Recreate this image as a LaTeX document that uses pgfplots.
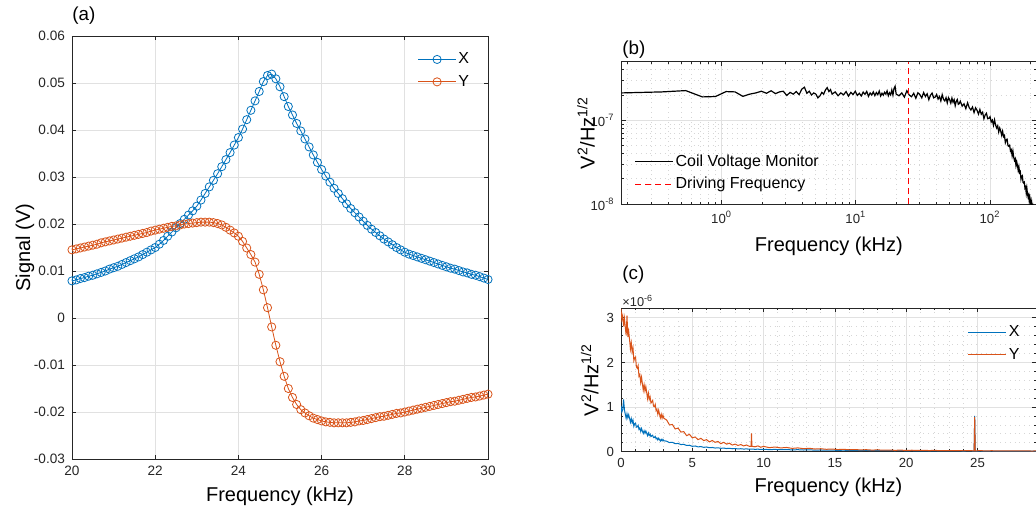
\documentclass[border=0pt]{standalone}
\usepackage{fontspec}
\setmainfont{Liberation Sans}
\usepackage{pgfplots}
\usepackage{pgfplotstable}
\pgfplotsset{compat=1.18}

\definecolor{mblue}{RGB}{0,114,189}
\definecolor{morange}{RGB}{217,83,25}
\definecolor{axgray}{RGB}{38,38,38}
\definecolor{gridgray}{RGB}{225,225,225}

% panel (a): lock-in X and Y versus drive frequency
\pgfplotstableread{
f X Y
20.0 .0079 .0145
20.1 .0081 .0147
20.2 .0084 .0149
20.3 .0086 .0151
20.4 .0089 .0153
20.5 .0091 .0155
20.6 .0094 .0157
20.7 .0097 .0160
20.8 .0100 .0162
20.9 .0104 .0164
21.0 .0107 .0166
21.1 .0110 .0168
21.2 .0114 .0170
21.3 .0118 .0172
21.4 .0122 .0174
21.5 .0126 .0176
21.6 .0130 .0178
21.7 .0135 .0180
21.8 .0140 .0182
21.9 .0145 .0185
22.0 .0150 .0187
22.1 .0157 .0189
22.2 .0165 .0191
22.3 .0174 .0193
22.4 .0183 .0195
22.5 .0192 .0196
22.6 .0201 .0198
22.7 .0210 .0200
22.8 .0219 .0201
22.9 .0228 .0202
23.0 .0238 .0203
23.1 .0251 .0204
23.2 .0265 .0204
23.3 .0279 .0204
23.4 .0293 .0203
23.5 .0307 .0201
23.6 .0322 .0198
23.7 .0337 .0193
23.8 .0352 .0187
23.9 .0368 .0181
24.0 .0384 .0174
24.1 .0402 .0163
24.2 .0422 .0149
24.3 .0442 .0135
24.4 .0462 .0119
24.5 .0482 .0093
24.6 .0503 .0060
24.7 .0516 .0022
24.8 .0519 -.0019
24.9 .0509 -.0058
25.0 .0492 -.0093
25.1 .0471 -.0124
25.2 .0450 -.0150
25.3 .0432 -.0169
25.4 .0414 -.0184
25.5 .0398 -.0195
25.6 .0381 -.0202
25.7 .0364 -.0208
25.8 .0347 -.0213
25.9 .0331 -.0216
26.0 .0316 -.0219
26.1 .0302 -.0221
26.2 .0289 -.0222
26.3 .0276 -.0223
26.4 .0265 -.0223
26.5 .0254 -.0223
26.6 .0243 -.0223
26.7 .0233 -.0222
26.8 .0224 -.0221
26.9 .0215 -.0219
27.0 .0206 -.0218
27.1 .0197 -.0216
27.2 .0189 -.0214
27.3 .0182 -.0212
27.4 .0175 -.0210
27.5 .0168 -.0209
27.6 .0162 -.0207
27.7 .0156 -.0205
27.8 .0150 -.0203
27.9 .0145 -.0202
28.0 .0140 -.0200
28.1 .0136 -.0198
28.2 .0133 -.0196
28.3 .0130 -.0194
28.4 .0127 -.0192
28.5 .0124 -.0190
28.6 .0121 -.0188
28.7 .0118 -.0186
28.8 .0115 -.0184
28.9 .0112 -.0182
29.0 .0109 -.0180
29.1 .0106 -.0178
29.2 .0104 -.0177
29.3 .0101 -.0175
29.4 .0098 -.0173
29.5 .0096 -.0171
29.6 .0093 -.0169
29.7 .0091 -.0168
29.8 .0088 -.0166
29.9 .0085 -.0164
30.0 .0082 -.0162
}\sweep

% panel (b): coil voltage monitor spectrum
\pgfplotstableread{
f v
0.18 2.12e-7
0.36 2.18e-7
0.54 2.26e-7
0.72 1.90e-7
0.90 1.92e-7
1.08 2.20e-7
1.26 2.18e-7
1.44 1.93e-7
1.62 2.05e-7
1.80 2.12e-7
1.98 2.22e-7
2.16 2.10e-7
2.34 2.25e-7
2.52 2.08e-7
2.70 2.18e-7
2.88 2.22e-7
3.06 1.98e-7
3.24 2.15e-7
3.42 2.05e-7
3.60 2.20e-7
3.78 2.02e-7
3.96 2.35e-7
4.14 2.48e-7
4.32 2.10e-7
4.50 2.22e-7
4.68 2.00e-7
4.86 2.12e-7
5.04 2.05e-7
5.22 1.85e-7
5.40 1.95e-7
5.58 2.15e-7
5.76 2.05e-7
5.94 2.30e-7
6.12 2.45e-7
6.30 2.20e-7
6.48 2.32e-7
6.66 2.05e-7
7.02 2.18e-7
7.38 1.96e-7
7.74 2.12e-7
8.10 2.01e-7
8.46 2.20e-7
8.82 1.94e-7
9.18 2.15e-7
9.54 2.03e-7
9.90 2.22e-7
10.26 1.98e-7
10.62 2.10e-7
10.98 1.95e-7
11.34 2.17e-7
11.70 2.04e-7
12.06 2.21e-7
12.42 1.93e-7
12.78 2.12e-7
13.14 2.00e-7
13.50 2.18e-7
13.86 1.97e-7
14.22 2.14e-7
14.58 2.02e-7
14.94 2.23e-7
15.30 1.95e-7
15.66 2.10e-7
16.02 1.99e-7
16.38 2.16e-7
16.74 2.05e-7
17.10 2.24e-7
17.46 1.96e-7
17.82 2.13e-7
18.18 2.01e-7
18.54 2.30e-7
18.90 2.00e-7
19.26 2.40e-7
19.62 2.55e-7
19.98 2.05e-7
21 1.96e-7
22 2.12e-7
23 1.89e-7
24 2.25e-7
25 2.00e-7
26 1.91e-7
27 2.10e-7
28 1.83e-7
29 2.13e-7
30 2.02e-7
31 1.85e-7
32 2.14e-7
33 1.92e-7
34 2.07e-7
35 1.76e-7
36 1.99e-7
37 2.11e-7
38 1.85e-7
39 1.89e-7
40 2.03e-7
41 1.79e-7
42 1.92e-7
43 1.70e-7
44 2.02e-7
45 1.78e-7
46 1.70e-7
47 1.86e-7
48 1.61e-7
49 1.86e-7
50 1.76e-7
51 1.60e-7
52 1.84e-7
53 1.64e-7
54 1.76e-7
55 1.49e-7
56 1.68e-7
57 1.77e-7
58 1.55e-7
59 1.58e-7
60 1.69e-7
62 1.474e-7
64 1.570e-7
66 1.376e-7
68 1.615e-7
70 1.411e-7
72 1.327e-7
74 1.439e-7
76 1.234e-7
78 1.408e-7
80 1.313e-7
82 1.183e-7
84 1.344e-7
86 1.180e-7
88 1.247e-7
90 1.044e-7
92 1.159e-7
94 1.212e-7
96 1.044e-7
98 1.053e-7
100 1.102e-7
102 0.952e-7
104 1.003e-7
106 0.870e-7
108 1.010e-7
110 0.872e-7
112 0.807e-7
114 0.859e-7
116 0.723e-7
118 0.808e-7
120 0.747e-7
122 0.662e-7
124 0.739e-7
126 0.636e-7
128 0.659e-7
130 0.540e-7
132 0.583e-7
134 0.593e-7
136 0.497e-7
138 0.489e-7
140 0.503e-7
142 0.428e-7
144 0.443e-7
146 0.377e-7
148 0.429e-7
150 0.363e-7
152 0.331e-7
154 0.347e-7
156 0.288e-7
158 0.319e-7
160 0.288e-7
162 0.252e-7
164 0.278e-7
166 0.237e-7
168 0.244e-7
170 0.198e-7
172 0.214e-7
174 0.218e-7
176 0.182e-7
178 0.178e-7
180 0.182e-7
182 0.154e-7
184 0.159e-7
186 0.135e-7
188 0.155e-7
190 0.132e-7
192 0.121e-7
194 0.128e-7
196 0.107e-7
198 0.120e-7
200 0.109e-7
202 0.097e-7
204 0.107e-7
206 0.092e-7
208 0.096e-7
210 0.078e-7
212 0.085e-7
214 0.087e-7
216 0.073e-7
218 0.072e-7
220 0.075e-7
}\coil

% panel (c): noise spectra of X and Y, in units of 1e-6
\pgfplotstableread{
f v
0.00 1.03
0.06 0.89
0.12 0.94
0.18 1.17
0.24 0.94
0.30 0.84
0.36 0.75
0.42 0.85
0.48 0.76
0.54 0.83
0.60 0.75
0.66 0.66
0.72 0.74
0.78 0.65
0.84 0.71
0.90 0.57
0.96 0.63
1.02 0.64
1.08 0.55
1.14 0.555
1.20 0.59
1.26 0.50
1.32 0.53
1.38 0.455
1.44 0.52
1.50 0.46
1.56 0.41
1.62 0.47
1.68 0.415
1.74 0.465
1.80 0.415
1.86 0.36
1.92 0.42
1.98 0.365
2.04 0.394
2.10 0.339
2.16 0.356
2.22 0.37
2.28 0.315
2.34 0.319
2.40 0.344
2.46 0.288
2.52 0.307
2.58 0.263
2.64 0.304
2.70 0.27
2.76 0.239
2.82 0.277
2.88 0.244
2.94 0.277
3.00 0.247
3.2 0.235
3.4 0.205
3.6 0.21
3.8 0.18
4.0 0.185
4.2 0.16
4.4 0.165
4.6 0.14
4.8 0.145
5.0 0.12
5.2 0.128
5.4 0.108
5.6 0.115
5.8 0.098
6.0 0.105
6.2 0.089
6.4 0.095
6.6 0.082
6.8 0.088
7.0 0.076
7.2 0.081
7.4 0.071
7.6 0.076
7.8 0.066
8.0 0.071
8.2 0.062
8.4 0.067
8.6 0.059
8.8 0.063
9.0 0.056
9.2 0.060
9.4 0.053
9.6 0.057
9.8 0.050
10.0 0.054
10.4 0.047
10.8 0.051
11.2 0.044
11.6 0.048
12.0 0.041
12.4 0.045
12.8 0.038
13.2 0.042
13.6 0.035
14.0 0.039
14.4 0.033
14.8 0.036
15.2 0.030
15.6 0.034
16.0 0.028
16.4 0.031
16.8 0.026
17.2 0.029
17.6 0.024
18.0 0.027
18.4 0.023
18.8 0.025
19.2 0.021
19.6 0.024
20.0 0.020
20.4 0.022
20.8 0.019
21.2 0.021
21.6 0.018
22.0 0.020
22.4 0.017
22.8 0.019
23.2 0.016
23.6 0.018
24.0 0.015
24.4 0.017
24.76 0.015
24.80 0.80
24.84 0.015
25.2 0.016
25.6 0.014
26.0 0.016
26.4 0.013
26.8 0.015
27.2 0.013
27.6 0.014
28.0 0.012
28.4 0.014
28.8 0.012
29.2 0.013
29.6 0.012
}\noiseX

\pgfplotstableread{
f v
0.00 3.20
0.06 2.96
0.12 3.05
0.18 2.81
0.24 2.99
0.30 2.79
0.36 2.61
0.42 3.05
0.48 2.57
0.54 2.70
0.60 2.51
0.66 2.30
0.72 2.44
0.78 2.24
0.84 2.33
0.90 2.04
0.96 2.10
1.02 2.12
1.08 1.90
1.14 1.87
1.20 1.93
1.26 1.69
1.32 1.73
1.38 1.55
1.44 1.67
1.50 1.52
1.56 1.38
1.62 1.50
1.68 1.36
1.74 1.46
1.80 1.33
1.86 1.19
1.92 1.31
1.98 1.17
2.04 1.23
2.10 1.09
2.16 1.12
2.22 1.15
2.28 1.02
2.34 1.01
2.40 1.06
2.46 0.92
2.52 0.95
2.58 0.84
2.64 0.93
2.70 0.84
2.76 0.76
2.82 0.84
2.88 0.75
2.94 0.82
3.00 0.75
3.2 0.71
3.4 0.60
3.6 0.61
3.8 0.51
4.0 0.53
4.2 0.44
4.4 0.45
4.6 0.36
4.8 0.39
5.0 0.31
5.2 0.33
5.4 0.27
5.6 0.30
5.8 0.25
6.0 0.27
6.2 0.22
6.4 0.25
6.6 0.21
6.8 0.23
7.0 0.18
7.2 0.21
7.4 0.17
7.6 0.19
7.8 0.15
8.0 0.17
8.2 0.14
8.4 0.16
8.6 0.13
8.8 0.15
9.0 0.12
9.12 0.12
9.15 0.41
9.18 0.12
9.4 0.11
9.6 0.13
9.8 0.10
10.0 0.12
10.4 0.09
10.8 0.105
11.2 0.085
11.6 0.095
12.0 0.075
12.4 0.085
12.8 0.068
13.2 0.076
13.6 0.060
14.0 0.067
14.4 0.054
14.8 0.060
15.2 0.048
15.6 0.054
16.0 0.043
16.4 0.049
16.8 0.040
17.2 0.045
17.6 0.036
18.0 0.041
18.4 0.034
18.8 0.038
19.2 0.031
19.6 0.035
20.0 0.029
20.4 0.033
20.8 0.027
21.2 0.031
21.6 0.026
22.0 0.029
22.4 0.024
22.8 0.027
23.2 0.022
23.6 0.026
24.0 0.021
24.4 0.024
24.76 0.020
24.80 0.78
24.84 0.020
25.2 0.023
25.6 0.019
26.0 0.022
26.4 0.018
26.8 0.021
27.2 0.017
27.6 0.020
28.0 0.016
28.4 0.019
28.8 0.015
29.2 0.018
29.6 0.015
}\noiseY

\pgfplotsset{
  mstyle/.style={
    scale only axis,
    axis line style={axgray, line width=0.4pt},
    tick style={axgray, line width=0.4pt},
    major tick length=2pt, minor tick length=1.2pt,
    tick label style={font=\fontsize{6.6}{8}\selectfont, text=axgray},
    label style={font=\fontsize{9.6}{11}\selectfont, text=axgray},
    grid style={gridgray, line width=0.4pt},
    minor grid style={gray!32, dotted, line width=0.4pt},
    scaled ticks=false,
    legend cell align=left,
    legend style={draw=none, fill=none, inner sep=0pt,
      font=\fontsize{8}{9.5}\selectfont, row sep=1.7pt,
      nodes={inner sep=1pt, text height=6pt, text depth=1.5pt}},
    legend image code/.code={
      \draw[mark repeat=2, mark phase=2, ##1]
        plot coordinates {(0pt,0pt) (9.5pt,0pt) (19pt,0pt)};},
  },
}

\begin{document}
\begin{tikzpicture}
\path[use as bounding box] (0,0) rectangle (518pt,-256.5pt);

% (a)
\begin{axis}[mstyle,
  at={(36pt,-229.5pt)}, anchor=south west,
  width=208pt, height=211.5pt,
  xmin=20, xmax=30, ymin=-0.03, ymax=0.06,
  xtick={20,22,24,26,28,30},
  xticklabels={20,22,24,26,28,30},
  ytick={-0.03,-0.02,-0.01,0,0.01,0.02,0.03,0.04,0.05,0.06},
  yticklabels={-0.03,-0.02,-0.01,0,0.01,0.02,0.03,0.04,0.05,0.06},
  tick label style={font=\fontsize{6.8}{8}\selectfont},
  grid=major,
  xlabel={Frequency (kHz)}, ylabel={Signal (V)},
  every axis x label/.style={at={(axis description cs:0.5,-0.088)}, anchor=center},
  every axis y label/.style={at={(axis description cs:-0.113,0.5)}, rotate=90, anchor=center},
  legend style={at={(axis description cs:0.83,0.968)}, anchor=north west},
]
\addplot[mblue, line width=0.4pt, mark=o, mark size=2.05pt] table[x=f, y=X] {\sweep};
\addplot[morange, line width=0.4pt, mark=o, mark size=2.05pt] table[x=f, y=Y] {\sweep};
\legend{X, Y}
\end{axis}

% (b)
\begin{axis}[mstyle,
  at={(310.8pt,-102pt)}, anchor=south west,
  width=207.2pt, height=71.15pt,
  xmode=log, ymode=log,
  xmin=0.18, xmax=220, ymin=1e-8, ymax=5e-7,
  xtick={1,10,100},
  xticklabels={10\textsuperscript{0},10\textsuperscript{1},10\textsuperscript{2}},
  ytick={1e-8,1e-7},
  yticklabels={10\textsuperscript{-8},10\textsuperscript{-7}},
  minor xtick={0.2,0.3,0.4,0.5,0.6,0.7,0.8,0.9,2,3,4,5,6,7,8,9,20,30,40,50,60,70,80,90,200},
  minor ytick={2e-8,3e-8,4e-8,5e-8,6e-8,7e-8,8e-8,9e-8,2e-7,3e-7,4e-7},
  grid=both,
  xlabel={Frequency (kHz)}, ylabel={V\textsuperscript{2}/Hz\textsuperscript{1/2}},
  every axis x label/.style={at={(axis description cs:0.5,-0.30)}, anchor=center},
  every axis y label/.style={at={(axis description cs:-0.086,0.5)}, rotate=90, anchor=center},
  legend style={at={(axis description cs:0.03,0.07)}, anchor=south west},
]
\addplot[black, line width=0.6pt] table[x=f, y=v] {\coil};
\addplot[red, line width=0.4pt, dash pattern=on 3pt off 2pt] coordinates {(24.8,1e-8) (24.8,5e-7)};
\legend{Coil Voltage Monitor, Driving Frequency}
\end{axis}

% (c)
\begin{axis}[mstyle,
  at={(310.5pt,-225.85pt)}, anchor=south west,
  width=207.5pt, height=71.85pt,
  xmin=0, xmax=29.1, ymin=0, ymax=3.22,
  xtick={0,5,10,15,20,25},
  xticklabels={0,5,10,15,20,25},
  ytick={0,1,2,3},
  yticklabels={0,1,2,3},
  minor x tick num=4, minor y tick num=4,
  grid=both,
  xlabel={Frequency (kHz)}, ylabel={V\textsuperscript{2}/Hz\textsuperscript{1/2}},
  every axis x label/.style={at={(axis description cs:0.5,-0.25)}, anchor=center},
  every axis y label/.style={at={(axis description cs:-0.075,0.5)}, rotate=90, anchor=center},
  legend style={at={(axis description cs:0.835,0.90)}, anchor=north west},
]
\addplot[mblue, line width=0.5pt] table[x=f, y=v] {\noiseX};
\addplot[morange, line width=0.5pt] table[x=f, y=v] {\noiseY};
\legend{X, Y}
\end{axis}

\node[anchor=west, inner sep=0pt, font=\fontsize{9.4}{11}\selectfont] at (36pt,-8pt) {(a)};
\node[anchor=west, inner sep=0pt, font=\fontsize{9.4}{11}\selectfont] at (311pt,-25pt) {(b)};
\node[anchor=west, inner sep=0pt, font=\fontsize{9.4}{11}\selectfont] at (311pt,-137.5pt) {(c)};
\node[anchor=west, inner sep=0pt, text=axgray, font=\fontsize{6.4}{8}\selectfont] at (311pt,-150.5pt) {×10\textsuperscript{-6}};
\end{tikzpicture}
\end{document}
